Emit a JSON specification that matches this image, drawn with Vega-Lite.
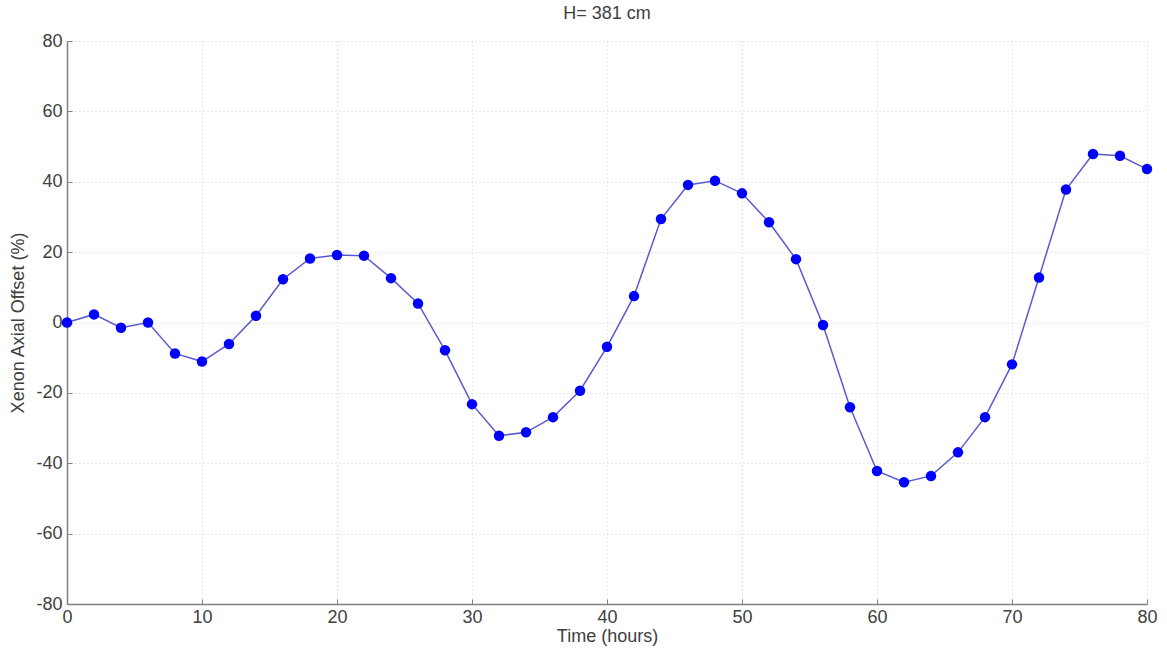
{
  "$schema": "https://vega.github.io/schema/vega-lite/v6.json",
  "autosize": {"type": "none"},
  "padding": {"left": 67, "top": 41, "right": 20, "bottom": 48},
  "width": 1080,
  "height": 563,
  "background": "white",
  "title": {
    "text": "H= 381 cm",
    "font": "Liberation Sans",
    "fontSize": 18,
    "fontWeight": "normal",
    "color": "#404040",
    "offset": 9
  },
  "config": {
    "view": {"stroke": null},
    "axis": {
      "labelFont": "Liberation Sans",
      "titleFont": "Liberation Sans",
      "labelFontSize": 18,
      "titleFontSize": 18,
      "titleFontWeight": "normal",
      "labelColor": "#404040",
      "titleColor": "#404040",
      "labelFlush": false,
      "domainColor": "#808080",
      "domainWidth": 1.5,
      "tickColor": "#808080",
      "tickWidth": 1,
      "gridColor": "#cfcfcf",
      "gridDash": [1, 3],
      "gridWidth": 1
    }
  },
  "data": {
    "values": [
      {"t": 0, "offset": 0.0},
      {"t": 2, "offset": 2.3},
      {"t": 4, "offset": -1.5},
      {"t": 6, "offset": 0.0},
      {"t": 8, "offset": -8.8},
      {"t": 10, "offset": -11.1},
      {"t": 12, "offset": -6.1},
      {"t": 14, "offset": 1.9},
      {"t": 16, "offset": 12.3},
      {"t": 18, "offset": 18.2},
      {"t": 20, "offset": 19.2},
      {"t": 22, "offset": 19.0},
      {"t": 24, "offset": 12.6},
      {"t": 26, "offset": 5.4},
      {"t": 28, "offset": -7.9},
      {"t": 30, "offset": -23.2},
      {"t": 32, "offset": -32.2},
      {"t": 34, "offset": -31.2},
      {"t": 36, "offset": -26.9},
      {"t": 38, "offset": -19.4},
      {"t": 40, "offset": -6.9},
      {"t": 42, "offset": 7.5},
      {"t": 44, "offset": 29.4},
      {"t": 46, "offset": 39.1},
      {"t": 48, "offset": 40.3},
      {"t": 50, "offset": 36.7},
      {"t": 52, "offset": 28.5},
      {"t": 54, "offset": 18.0},
      {"t": 56, "offset": -0.7},
      {"t": 58, "offset": -24.1},
      {"t": 60, "offset": -42.2},
      {"t": 62, "offset": -45.4},
      {"t": 64, "offset": -43.6},
      {"t": 66, "offset": -36.9},
      {"t": 68, "offset": -26.9},
      {"t": 70, "offset": -11.9},
      {"t": 72, "offset": 12.8},
      {"t": 74, "offset": 37.8},
      {"t": 76, "offset": 47.9},
      {"t": 78, "offset": 47.4},
      {"t": 80, "offset": 43.6}
    ]
  },
  "encoding": {
    "x": {
      "field": "t",
      "type": "quantitative",
      "scale": {"domain": [0, 80], "nice": false, "zero": false},
      "axis": {
        "title": "Time (hours)",
        "values": [0, 10, 20, 30, 40, 50, 60, 70, 80],
        "labelExpr": "'' + datum.value",
        "tickSize": -5,
        "labelPadding": 9,
        "titlePadding": 1
      }
    },
    "y": {
      "field": "offset",
      "type": "quantitative",
      "scale": {"domain": [-80, 80], "nice": false, "zero": false},
      "axis": {
        "title": "Xenon Axial Offset (%)",
        "values": [-80, -60, -40, -20, 0, 20, 40, 60, 80],
        "labelExpr": "'' + datum.value",
        "tickSize": -5,
        "labelPadding": 10,
        "titlePadding": 8
      }
    }
  },
  "layer": [
    {
      "mark": {"type": "line", "color": "#5a5ad0", "strokeWidth": 1.5}
    },
    {
      "mark": {"type": "point", "filled": true, "color": "#0000ff", "opacity": 1, "size": 110}
    }
  ]
}
